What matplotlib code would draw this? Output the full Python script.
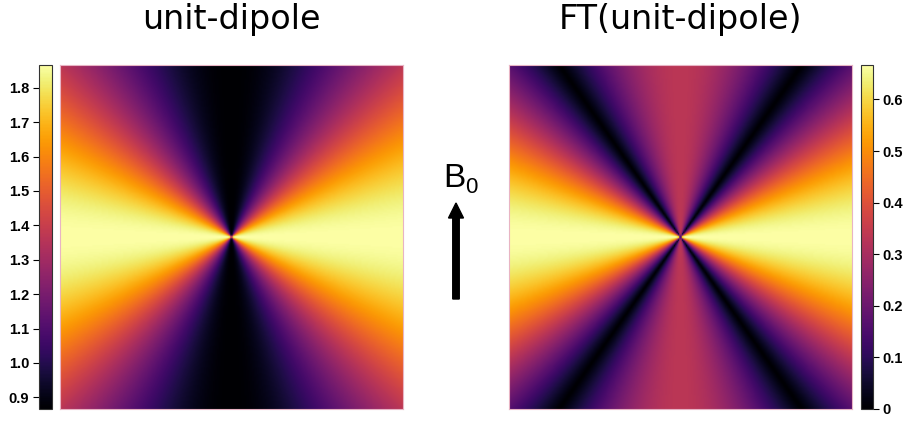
"""Dipole kernel in image space and its Fourier transform, side by side."""
import matplotlib
matplotlib.use("Agg")
import matplotlib.pyplot as plt
import numpy as np
from matplotlib.patches import FancyArrow

# colour scale limits and ticks for each panel
dipole_clim = [0.866, 1.866]
dipole_ticks = [0.9, 1.0, 1.1, 1.2, 1.3, 1.4, 1.5, 1.6, 1.7, 1.8]
ft_clim = [0.0, 2.0 / 3.0]
ft_ticks = [0.0, 0.1, 0.2, 0.3, 0.4, 0.5, 0.6]
ft_tick_labels = ["0", "0.1", "0.2", "0.3", "0.4", "0.5", "0.6"]

# kernel constants: offset of the image-space kernel, 1/3 term of D(k)
dipole_offset = 0.866
ft_offset = 1.0 / 3.0

titles = ["unit-dipole", "FT(unit-dipole)"]
grid_n = 256

W, H = 906, 421


def px_axes(fig, x0, y0, x1, y1):
    """Axes from pixel box (top-left origin)."""
    return fig.add_axes([x0 / W, (H - y1) / H, (x1 - x0) / W, (y1 - y0) / H])


# angular part of the kernel: cos^2 of angle to the horizontal axis
g = np.linspace(-1, 1, grid_n)
xx, yy = np.meshgrid(g, g)
r2 = xx ** 2 + yy ** 2
r2[r2 == 0] = 1e-12
cos2 = xx ** 2 / r2

dipole = dipole_offset + cos2
ft_dipole = np.abs(ft_offset - cos2)

fig = plt.figure(figsize=(W / 100, H / 100), dpi=100)

ax_l = px_axes(fig, 60, 65, 403, 409)
im_l = ax_l.imshow(dipole, cmap="inferno", vmin=dipole_clim[0], vmax=dipole_clim[1],
                   origin="lower", interpolation="bilinear", aspect="auto")
ax_r = px_axes(fig, 509, 65, 852, 409)
im_r = ax_r.imshow(ft_dipole, cmap="inferno", vmin=ft_clim[0], vmax=ft_clim[1],
                   origin="lower", interpolation="bilinear", aspect="auto")
for ax in (ax_l, ax_r):
    ax.set_xticks([])
    ax.set_yticks([])
    for s in ax.spines.values():
        s.set_color("#e8b4c4")
        s.set_linewidth(0.8)

tick_font = dict(family="Liberation Sans", weight="bold", size=10.5)

cax_l = px_axes(fig, 39, 65, 52, 409)
cb_l = fig.colorbar(im_l, cax=cax_l, ticks=dipole_ticks)
cax_l.yaxis.set_ticks_position("left")
cax_l.yaxis.set_label_position("left")
cb_l.ax.set_yticklabels([f"{t:.1f}" for t in dipole_ticks], **tick_font)

cax_r = px_axes(fig, 861, 65, 873, 409)
cb_r = fig.colorbar(im_r, cax=cax_r, ticks=ft_ticks)
cb_r.ax.set_yticklabels(ft_tick_labels, **tick_font)

for cb in (cb_l, cb_r):
    cb.outline.set_linewidth(0.8)
    cb.outline.set_edgecolor("#333333")
    cb.ax.tick_params(length=4, width=0.8, pad=3)

title_font = dict(family="DejaVu Sans", size=24, ha="center", va="baseline")
fig.text(231 / W, 1 - 29 / H, titles[0], **title_font)
fig.text(680 / W, 1 - 29 / H, titles[1], **title_font)

# field direction arrow with B0 label
fig.text(454 / W, 1 - 187 / H, "B", family="Liberation Sans", size=24,
         ha="center", va="baseline")
fig.text(471 / W, 1 - 193 / H, "0", family="Liberation Sans", size=16,
         ha="center", va="baseline")
fig.add_artist(FancyArrow(4.56, (H - 299) / 100, 0, 0.96, width=0.065,
                          head_width=0.15, head_length=0.15,
                          length_includes_head=True, color="black",
                          transform=fig.dpi_scale_trans))

fig.savefig("out.png", dpi=100)
